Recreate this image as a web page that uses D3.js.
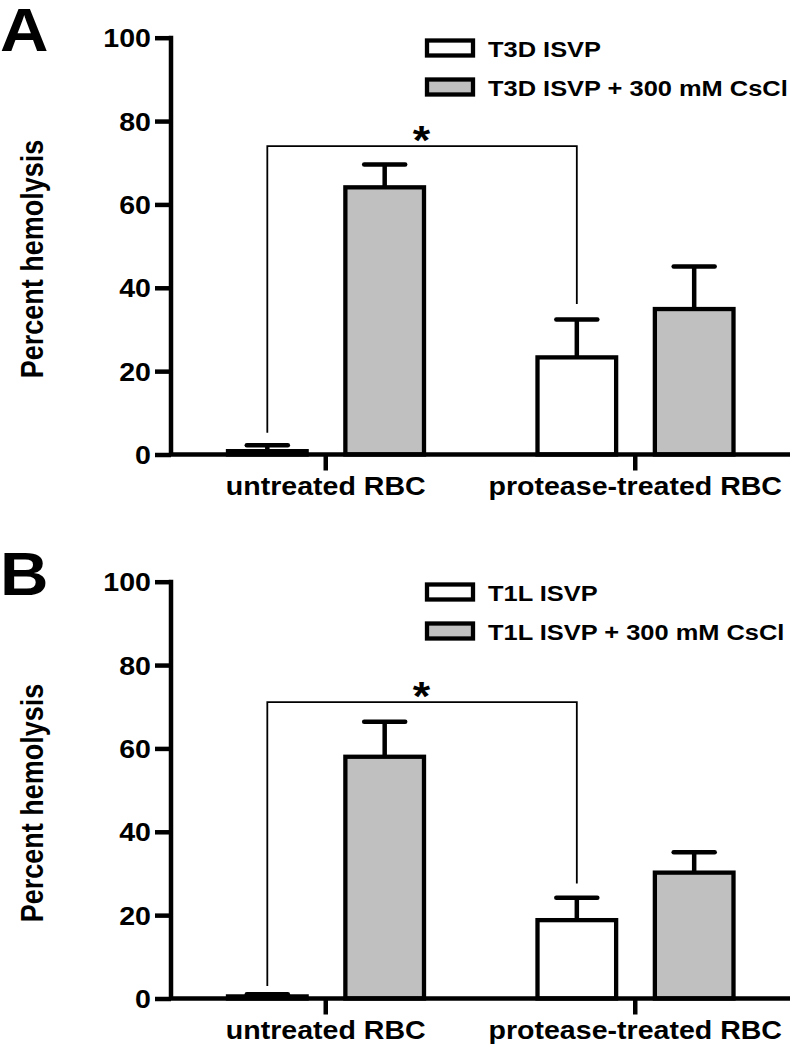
<!DOCTYPE html>
<html><head><meta charset="utf-8">
<script src="https://cdn.jsdelivr.net/npm/d3@7"></script>
<style>html,body{margin:0;padding:0;background:#fff}svg{display:block}</style>
</head><body>
<script>
// ---- data ----
const categories = ["untreated RBC", "protease-treated RBC"];
const yTicks = [0, 20, 40, 60, 80, 100];

const seriesA = ["T3D ISVP", "T3D ISVP + 300 mM CsCl"];
const meanA_isvp = [0.8, 23.3];
const semA_isvp = [1.4, 9.1];
const meanA_cscl = [64.1, 34.9];
const semA_cscl = [5.5, 10.2];
const bracketA = [74.0, 5.2, 36.1]; // bar height, left leg end, right leg end

const seriesB = ["T1L ISVP", "T1L ISVP + 300 mM CsCl"];
const meanB_isvp = [0.5, 18.8];
const semB_isvp = [0.5, 5.4];
const meanB_cscl = [58.0, 30.2];
const semB_cscl = [8.4, 4.9];
const bracketB = [71.1, 3.0, 27.6];

const panels = [
  {letter: "A", series: seriesA, means: [meanA_isvp, meanA_cscl], sems: [semA_isvp, semA_cscl], bracket: bracketA, off: 0},
  {letter: "B", series: seriesB, means: [meanB_isvp, meanB_cscl], sems: [semB_isvp, semB_cscl], bracket: bracketB, off: 544}
];

const fills = ["#ffffff", "#c0c0c0"];
const SX = 1.12; // horizontal stretch of the glyphs in the original figure
const FONT = "'Liberation Sans', Arial, Helvetica, sans-serif";

const svg = d3.select("body").append("svg").attr("width", 793).attr("height", 1047)
  .style("font-family", FONT).style("font-weight", "bold");
svg.append("rect").attr("width", 793).attr("height", 1047).attr("fill", "#fff");

function stext(g, str, x, y, size, anchor) {
  return g.append("text").attr("transform", `translate(${x},${y}) scale(${SX},1)`)
    .attr("text-anchor", anchor || "start").attr("font-size", size).attr("fill", "#000").text(str);
}

panels.forEach(p => {
  const g = svg.append("g").attr("transform", `translate(0,${p.off})`);
  const axisX = 171, xEnd = 790;
  const y = d3.scaleLinear().domain([0, 100]).range([454.5, 37.7]);
  const x0 = d3.scaleBand().domain(categories).range([axisX, xEnd]).paddingInner(0).paddingOuter(0);
  const x1 = d3.scaleBand().domain(p.series).range([57, 253]).paddingInner(0.33).paddingOuter(0);

  // panel letter
  g.append("text").attr("transform", `translate(0,51) scale(1.1,1)`)
    .attr("font-size", 61).attr("fill", "#000").text(p.letter);

  // y axis
  const yAxis = d3.axisLeft(y).tickValues(yTicks).tickSize(16).tickPadding(4).tickSizeOuter(0);
  const ya = g.append("g").attr("transform", `translate(${axisX},0)`).call(yAxis);
  ya.select(".domain").attr("stroke", "#000").attr("stroke-width", 4.5)
    .attr("d", `M0,${y(100) - 2}V${y(0)}`);
  ya.selectAll(".tick line").attr("stroke", "#000").attr("stroke-width", 4.5);
  ya.selectAll(".tick text").attr("font-size", 25.5).attr("font-family", FONT).attr("font-weight", "bold")
    .attr("fill", "#000").attr("x", -20 / SX).attr("dy", "0.36em")
    .attr("transform", `scale(${SX},1)`);

  // y label
  g.append("text").attr("transform", `translate(43,259) rotate(-90) scale(1,1.18)`)
    .attr("text-anchor", "middle").attr("font-size", 27).attr("fill", "#000").text("Percent hemolysis");

  // bars
  const groups = g.append("g").selectAll("g").data(categories).join("g")
    .attr("transform", d => `translate(${x0(d)},0)`);
  p.series.forEach((s, si) => {
    groups.append("rect")
      .attr("x", x1(s)).attr("width", x1.bandwidth())
      .attr("y", (d, ci) => y(p.means[si][ci]))
      .attr("height", (d, ci) => y(0) - y(p.means[si][ci]))
      .attr("fill", fills[si]).attr("stroke", "#000").attr("stroke-width", 4.3);
    // error bars (upper only)
    const cx = x1(s) + x1.bandwidth() / 2;
    groups.append("line").attr("x1", cx).attr("x2", cx)
      .attr("y1", (d, ci) => y(p.means[si][ci]))
      .attr("y2", (d, ci) => y(p.means[si][ci] + p.sems[si][ci]))
      .attr("stroke", "#000").attr("stroke-width", 4.5);
    groups.append("line").attr("x1", cx - 20.5).attr("x2", cx + 20.5)
      .attr("y1", (d, ci) => y(p.means[si][ci] + p.sems[si][ci]))
      .attr("y2", (d, ci) => y(p.means[si][ci] + p.sems[si][ci]))
      .attr("stroke", "#000").attr("stroke-width", 4.5).attr("stroke-linecap", "round");
  });

  // x axis
  const xAxis = d3.axisBottom(x0).tickSize(16).tickSizeOuter(0).tickPadding(6);
  const xa = g.append("g").attr("transform", `translate(0,${y(0)})`).call(xAxis);
  xa.select(".domain").attr("stroke", "#000").attr("stroke-width", 4.5).attr("d", `M${axisX - 2},0H${xEnd}`);
  xa.selectAll(".tick line").attr("stroke", "#000").attr("stroke-width", 4.5);
  xa.selectAll(".tick text").remove();
  categories.forEach(c => {
    stext(g, c, x0(c) + x0.bandwidth() / 2, y(0) + 40, 25.5, "middle");
  });

  // significance bracket (between white bars)
  const s0 = p.series[0];
  const lx = x0(categories[0]) + x1(s0) + x1.bandwidth() / 2;
  const rx = x0(categories[1]) + x1(s0) + x1.bandwidth() / 2;
  const [bh, bl, br] = p.bracket;
  g.append("path").attr("fill", "none").attr("stroke", "#000").attr("stroke-width", 1.8)
    .attr("d", `M${lx},${y(bl)}V${y(bh)}H${rx}V${y(br)}`);
  stext(g, "*", (lx + rx) / 2 - 0.5, y(bh) + 8, 40, "middle");

  // legend
  const lg = g.append("g");
  p.series.forEach((s, si) => {
    const cy = 48 + si * 39;
    lg.append("rect").attr("x", 427).attr("y", cy - 7.5).attr("width", 46).attr("height", 15)
      .attr("fill", fills[si]).attr("stroke", "#000").attr("stroke-width", 4.3);
    stext(lg, s, 488, cy + 8.5, 22.7, "start");
  });
});
</script>
</body></html>
